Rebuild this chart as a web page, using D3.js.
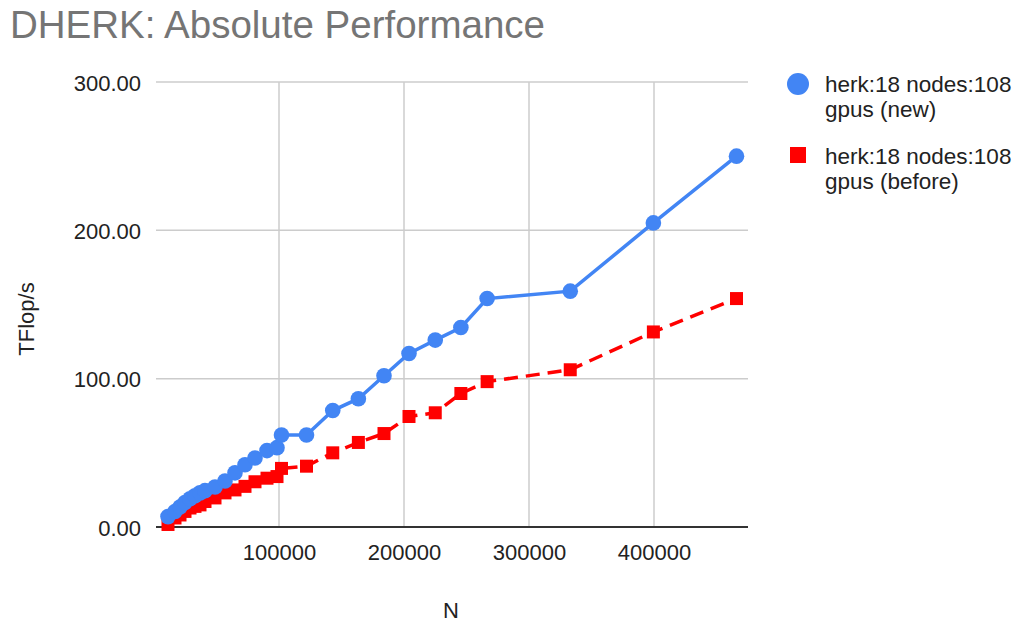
<!DOCTYPE html>
<html>
<head>
<meta charset="utf-8">
<script src="https://cdn.jsdelivr.net/npm/d3@7"></script>
<style>
  html, body { margin: 0; padding: 0; background: #fff; }
  svg { display: block; font-family: "Liberation Sans", Arial, sans-serif; }
</style>
</head>
<body>
<svg id="chart" width="1018" height="624"></svg>
<script>
const title = "DHERK: Absolute Performance";
const xTitle = "N";
const yTitle = "TFlop/s";
const seriesNames = ["herk:18 nodes:108 gpus (new)", "herk:18 nodes:108 gpus (before)"];
const legendLines = [["herk:18 nodes:108", "gpus (new)"], ["herk:18 nodes:108", "gpus (before)"]];
const N = [11200, 16800, 20800, 24800, 28800, 32800, 36800, 40800, 48800, 56800, 64800, 72800, 80800,
           90400, 98400, 102000, 122000, 143000, 163500, 184000, 204000, 225000, 245500, 266500,
           333000, 399500, 466000];
const newVals = [7, 10.5, 13.5, 16.5, 19, 21, 23, 24.5, 27, 31, 36.5, 42, 46.5,
                 51.5, 53.5, 62, 62, 78.5, 86.5, 102, 117, 126, 134.5, 154,
                 159, 205, 250];
const beforeVals = [1.7, 6.1, 8.1, 10.5, 12.8, 13.9, 14.9, 17.2, 19.6, 23, 25, 27.4, 30.5,
                    32.9, 34, 39.5, 41, 50, 57, 63, 74.5, 77, 90, 98,
                    106, 131.5, 154];
const xTicks = [100000, 200000, 300000, 400000];
const yTicks = [0, 100, 200, 300];

const svg = d3.select("#chart");
const x = d3.scaleLinear().domain([1600, 475200]).range([156, 748]);
const y = d3.scaleLinear().domain([0, 300]).range([527, 82]);

// title
svg.append("text").attr("x", 10).attr("y", 38)
  .attr("font-size", 38.5).attr("fill", "#757575").text(title);

// gridlines
svg.append("g").selectAll("line").data(xTicks).join("line")
  .attr("x1", d => x(d)).attr("x2", d => x(d))
  .attr("y1", y(300)).attr("y2", y(0))
  .attr("stroke", "#cccccc").attr("stroke-width", 1.5);
svg.append("g").selectAll("line").data(yTicks.filter(d => d > 0)).join("line")
  .attr("x1", 156).attr("x2", 748)
  .attr("y1", d => y(d)).attr("y2", d => y(d))
  .attr("stroke", "#cccccc").attr("stroke-width", 1.5);

// axes via d3 axis, styled
const xAxis = svg.append("g").attr("transform", `translate(0,${y(0)})`)
  .call(d3.axisBottom(x).tickValues(xTicks).tickFormat(d3.format("d")).tickSize(0).tickPadding(33));
xAxis.select(".domain").remove();
xAxis.selectAll("text").attr("font-size", 22).attr("fill", "#222").attr("font-family", "Liberation Sans, Arial, sans-serif")
  .attr("dy", 0).attr("y", 33);

const yAxis = svg.append("g").attr("transform", `translate(141,0)`)
  .call(d3.axisLeft(y).tickValues(yTicks).tickFormat(d3.format(".2f")).tickSize(0).tickPadding(0));
yAxis.select(".domain").remove();
yAxis.selectAll("text").attr("font-size", 22).attr("fill", "#222").attr("font-family", "Liberation Sans, Arial, sans-serif")
  .attr("x", 0).attr("dy", 8);

// baseline
svg.append("line").attr("x1", 156).attr("x2", 748).attr("y1", y(0)).attr("y2", y(0))
  .attr("stroke", "#333").attr("stroke-width", 2);

// axis titles
svg.append("text").attr("x", 451).attr("y", 618).attr("text-anchor", "middle")
  .attr("font-size", 22).attr("fill", "#222").text(xTitle);
svg.append("text").attr("transform", "translate(34,319) rotate(-90)").attr("text-anchor", "middle")
  .attr("font-size", 22).attr("fill", "#222").text(yTitle);

const line = d3.line().x(d => x(d[0])).y(d => y(d[1]));
const blueData = N.map((n, i) => [n, newVals[i]]);
const redData = N.map((n, i) => [n, beforeVals[i]]);

// before series (red, dashed, squares)
svg.append("path").datum(redData).attr("d", line).attr("fill", "none")
  .attr("stroke", "#ff0000").attr("stroke-width", 3.5).attr("stroke-dasharray", "14,8");
const sq = 13;
svg.append("g").selectAll("rect").data(redData).join("rect")
  .attr("x", d => x(d[0]) - sq / 2).attr("y", d => y(d[1]) - sq / 2)
  .attr("width", sq).attr("height", sq).attr("fill", "#ff0000");

// new series (blue, solid, circles)
svg.append("path").datum(blueData).attr("d", line).attr("fill", "none")
  .attr("stroke", "#4285f4").attr("stroke-width", 3.5);
svg.append("g").selectAll("circle").data(blueData).join("circle")
  .attr("cx", d => x(d[0])).attr("cy", d => y(d[1])).attr("r", 7.8).attr("fill", "#4285f4");

// legend
const lg = svg.append("g");
lg.append("circle").attr("cx", 798).attr("cy", 84).attr("r", 11).attr("fill", "#4285f4");
lg.append("rect").attr("x", 790).attr("y", 147).attr("width", 16).attr("height", 16).attr("fill", "#ff0000");
legendLines.forEach((lines, i) => {
  const t = lg.append("text").attr("x", 825).attr("y", 92 + i * 72)
    .attr("font-size", 22.5).attr("fill", "#222");
  lines.forEach((s, j) => t.append("tspan").attr("x", 825).attr("dy", j === 0 ? 0 : 25).text(s));
});
</script>
</body>
</html>
